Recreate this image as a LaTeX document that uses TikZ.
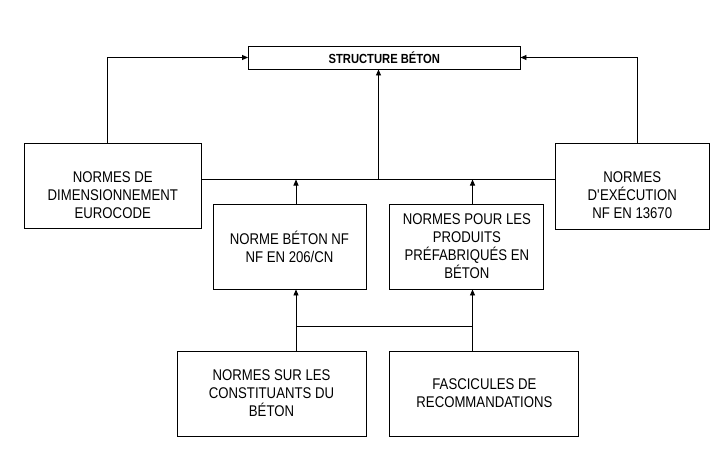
\documentclass[tikz,border=0pt]{standalone}
\usepackage{fontspec}
\setmainfont{Liberation Sans}[FakeStretch=0.85]
\usetikzlibrary{positioning,arrows.meta}

\begin{document}
\begin{tikzpicture}[x=1pt, y=-1pt] %Structure beton
	\tikzstyle{normtext} = [align=center, font=\fontsize{15.5}{18}\selectfont]
	\tikzstyle{normbox} = [normtext, rectangle, draw, line width=0.9pt, minimum height=85pt, inner sep=0pt]
	\tikzstyle{mainbox} = [rectangle, draw, line width=0.9pt, minimum width=271.5pt, minimum height=23pt, align=center, font=\fontsize{13.2}{16}\selectfont\bfseries]
	\tikzstyle{fleche} = [line width=0.9pt, -{Triangle[length=6pt, width=5pt]}]
	\useasboundingbox (0,0) rectangle (725,452);
	\node[mainbox] (S) at (384.25,57.5) {STRUCTURE BÉTON};
	\node[normbox, minimum width=177.5pt, minimum height=85.5pt] (D) at (112.75,185.75) {};
	\node[normtext] (D1) at ([yshift=-9pt]D.center) {NORMES DE\\DIMENSIONNEMENT\\EUROCODE};
	\node[normbox, minimum width=153.5pt, minimum height=86pt] (E) at (632.25,186) {};
	\node[normtext] (E1) at ([yshift=-9pt]E.center) {NORMES\\D\textquotesingle EXÉCUTION\\NF EN 13670};
	\node[normbox, minimum width=153pt] (B) at (289.5,246.5) {NORME BÉTON NF\\NF EN 206/CN};
	\node[normbox, minimum width=154pt, right=23pt of B] (P) {NORMES POUR LES\\PRODUITS\\PRÉFABRIQUÉS EN\\BÉTON};
	\node[normbox, minimum width=189pt] (C) at (271.5,393.5) {NORMES SUR LES\\CONSTITUANTS DU\\BÉTON};
	\node[normbox, minimum width=189pt, right=23pt of C] (F) {FASCICULES DE\\RECOMMANDATIONS};
	\coordinate (bus) at (378.5,179.5);
	\coordinate (xD) at (107.5,0);
	\coordinate (xE) at (637.5,0);
	\coordinate (xB) at (296,326);
	\coordinate (xP) at (472.5,326);
	\draw[line width=0.9pt] (D.east |- bus) -- (E.west |- bus);
	\draw[fleche] (bus) -- (S.south -| bus);
	\draw[fleche] (D.north -| xD) |- (S.west);
	\draw[fleche] (E.north -| xE) |- (S.east);
	\foreach \n/\m/\x in {B/C/xB, P/F/xP}
	{
		\draw[fleche] (\n.north -| \x) -- (bus -| \x);
		\draw[fleche] (\m.north -| \x) -- (\n.south -| \x);
	}
	\draw[line width=0.9pt] (xB) -- (xP);
\end{tikzpicture}
\end{document}
